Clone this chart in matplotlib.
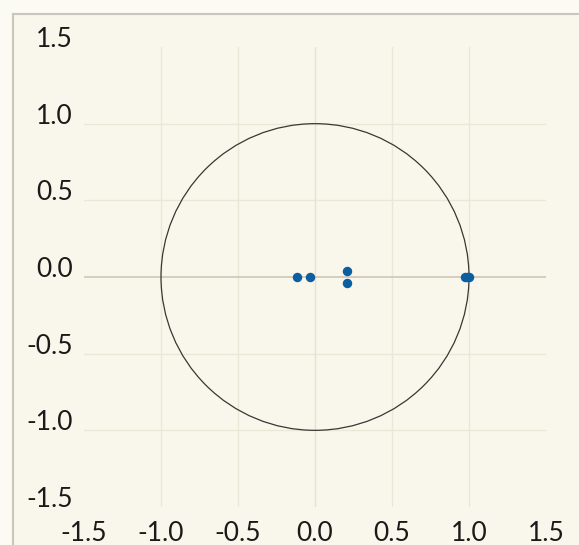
import matplotlib
matplotlib.use("Agg")
import matplotlib.pyplot as plt
import matplotlib.transforms as mtransforms
from matplotlib.patches import Circle
from matplotlib.lines import Line2D

# pole locations on the complex plane
pole_re = [-0.12, -0.035, 0.205, 0.205, 0.975, 0.99, 1.0]
pole_im = [0.0, 0.0, 0.04, -0.04, 0.0, 0.0, 0.0]

ticks = [-1.5, -1.0, -0.5, 0.0, 0.5, 1.0, 1.5]
tick_labels = ["-1.5", "-1.0", "-0.5", "0.0", "0.5", "1.0", "1.5"]

bg = "#f9f7eb"
plt.rcParams['font.family'] = ['Lato', 'DejaVu Sans']

fig = plt.figure(figsize=(5.79, 5.45), dpi=100)
fig.patch.set_facecolor("#fbfaf3")

# panel frame (top and left edges)
W, H = 579, 545
fig.add_artist(plt.Rectangle((13 / W, 0), 1, 1 - 14 / H, transform=fig.transFigure,
                             facecolor=bg, edgecolor="none", zorder=0))
fig.add_artist(Line2D([13 / W, 1], [1 - 14 / H, 1 - 14 / H], transform=fig.transFigure,
                      color="#c9c7bd", lw=1.5))
fig.add_artist(Line2D([13 / W, 13 / W], [0, 1 - 14 / H], transform=fig.transFigure,
                      color="#c9c7bd", lw=1.5))

ax = fig.add_axes([84 / W, 38 / H, 462 / W, 460 / H])
ax.set_facecolor(bg)
ax.set_xlim(-1.5, 1.5)
ax.set_ylim(-1.5, 1.5)

ax.set_xticks(ticks)
ax.set_xticklabels(tick_labels)
ax.set_yticks(ticks)
ax.set_yticklabels(tick_labels)
ax.tick_params(length=0, labelsize=19, colors="#1a1a1a")
ax.tick_params(axis="x", pad=10)
ax.tick_params(axis="y", pad=8)
for s in ax.spines.values():
    s.set_visible(False)

# y labels sit on top of their grid lines
lift = mtransforms.ScaledTranslation(0, 10 / 100, fig.dpi_scale_trans)
for lbl in ax.get_yticklabels():
    lbl.set_transform(lbl.get_transform() + lift)

# inner grid only
for v in ticks[1:-1]:
    if v != 0.0:
        ax.axvline(v, color="#ebe7d7", lw=1, zorder=1)
        ax.axhline(v, color="#ebe7d7", lw=1, zorder=1)
ax.axvline(0.0, color="#e6e1d0", lw=1, zorder=1)
ax.axhline(0.0, color="#cdc2b0", lw=1.1, zorder=1)

# unit circle
ax.add_patch(Circle((0, 0), 1.0, fill=False, edgecolor="#3a3733", lw=0.9, zorder=2))

ax.plot(pole_re, pole_im, linestyle="none", marker="o", markersize=5.8,
        color="#0b5fa0", zorder=3)

fig.savefig("out.png", dpi=100, facecolor=fig.get_facecolor())
